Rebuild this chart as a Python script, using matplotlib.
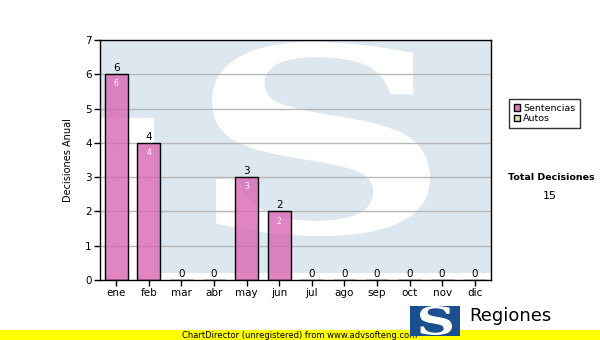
import matplotlib
matplotlib.use("Agg")
import matplotlib.pyplot as plt
from matplotlib.patches import Polygon, Rectangle, Patch, PathPatch
from matplotlib.textpath import TextPath
from matplotlib.font_manager import FontProperties
from matplotlib.transforms import Affine2D

months = ["ene", "feb", "mar", "abr", "may", "jun", "jul", "ago", "sep", "oct", "nov", "dic"]
sentencias = [6, 4, 0, 0, 3, 2, 0, 0, 0, 0, 0, 0]
autos = [0, 0, 0, 0, 0, 0, 0, 0, 0, 0, 0, 0]
total = 15

plt.rcParams['font.family'] = ['DejaVu Sans']

fig = plt.figure(figsize=(6, 3.4), dpi=100)
fig.patch.set_facecolor("white")
W, H = 600, 340
L, R, T, B = 100, 491, 40, 280
ax = fig.add_axes([L / W, 1 - B / H, (R - L) / W, (B - T) / H])
ax.set_facecolor("white")

# watermark logo (decoration)
wm_blue = "#dde7f0"
poly = Polygon([(0, 1), (1, 1), (1, 0.03), (0.138, 0.03), (0.138, 0.675), (0, 0.675)],
               closed=True, transform=ax.transAxes, facecolor=wm_blue, edgecolor="none", zorder=0)
ax.add_patch(poly)


def s_patch(box, transform, color, z):
    tp = TextPath((0, 0), "S", size=1, prop=FontProperties(family="DejaVu Serif", weight="bold"))
    ext = tp.get_extents()
    bx0, by0, bx1, by1 = box
    tr = (Affine2D().translate(-ext.x0, -ext.y0)
          .scale((bx1 - bx0) / ext.width, (by1 - by0) / ext.height)
          .translate(bx0, by0))
    return PathPatch(tr.transform_path(tp), transform=transform, facecolor=color,
                     edgecolor="none", zorder=z)


ax.add_patch(s_patch(((212 - L) / (R - L), (B - 236) / (B - T), (430 - L) / (R - L), (B - 42) / (B - T)),
                     ax.transAxes, "white", 0.5))

x = list(range(len(months)))
ax.set_xlim(-0.5, 11.5)
ax.set_ylim(0, 7)
ax.set_yticks(range(0, 8))
for y in range(1, 7):
    ax.axhline(y, color="#b8b8b8", lw=1, zorder=1)

ax.bar(x, sentencias, width=0.7, color="#d966b3", alpha=0.8, edgecolor="none", zorder=2)
ax.bar(x, sentencias, width=0.7, color="none", edgecolor="black", lw=1, zorder=3)

for xi, v in zip(x, sentencias):
    ax.text(xi, v + 0.03, str(v), ha="center", va="bottom", fontsize=7.5, color="black", zorder=4)
    if v > 0:
        ax.text(xi, v - 0.15, str(v), ha="center", va="top", fontsize=5.5, color="white", zorder=4)

ax.set_xticks(x)
ax.set_xticklabels(months)
ax.tick_params(axis="both", direction="out", length=4, width=1, labelsize=7.5, pad=2)
for s in ax.spines.values():
    s.set_linewidth(1)
    s.set_color("black")
    s.set_zorder(5)
ax.set_ylabel("Decisiones Anual", fontsize=7, labelpad=9)

# legend
handles = [Patch(facecolor="#dd7fbf", edgecolor="black", label="Sentencias"),
           Patch(facecolor="#d8eea0", edgecolor="black", label="Autos")]
leg = fig.legend(handles=handles, loc="upper left", bbox_to_anchor=(509 / W, 1 - 99 / H),
                 fontsize=6.8, frameon=True, fancybox=False, edgecolor="black",
                 handlelength=0.7, handleheight=0.7, handletextpad=0.3,
                 borderpad=0.5, labelspacing=0.15, borderaxespad=0)
leg.get_frame().set_linewidth(1)

fig.text(551 / W, 1 - 178 / H, "Total Decisiones", fontsize=6.8, fontweight="bold",
         ha="center", va="center")
fig.text(550 / W, 1 - 196 / H, str(total), fontsize=8, ha="center", va="center")

# bottom yellow band and notice
fig.patches.append(Rectangle((0, 0), 1, 10 / H, transform=fig.transFigure,
                             facecolor="#ffff00", edgecolor="none", zorder=1))
fig.text(300 / W, 5 / H, "ChartDirector (unregistered) from www.advsofteng.com", fontsize=6,
         ha="center", va="center", color="black", zorder=2)

# bottom-right logo
fig.patches.append(Rectangle((410 / W, 1 - 336 / H), 50 / W, 30 / H, transform=fig.transFigure,
                             facecolor="#1c4f8e", edgecolor="none", zorder=3))
fig.patches.append(s_patch((420 / W, 1 - 335 / H, 452 / W, 1 - 306 / H), fig.transFigure, "white", 4))
fig.text(469 / W, 1 - 316 / H, "Regiones", fontsize=13, ha="left", va="center", color="black", zorder=4)

fig.savefig("out.png", dpi=100)
